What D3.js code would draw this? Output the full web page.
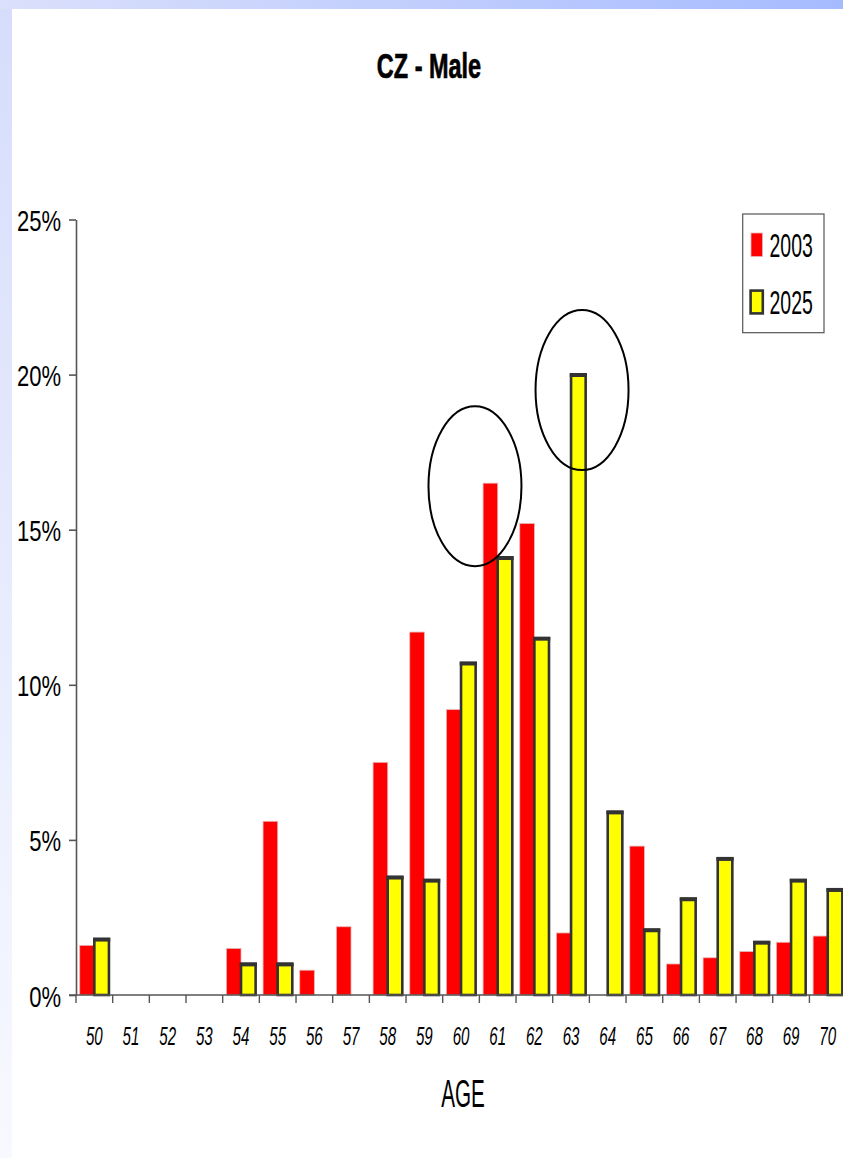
<!DOCTYPE html>
<html>
<head>
<meta charset="utf-8">
<script src="https://cdn.jsdelivr.net/npm/d3@7"></script>
<style>
  html, body { margin: 0; padding: 0; background: #fff; }
  svg { display: block; }
  text { font-family: "Liberation Sans", Arial, sans-serif; fill: #000; }
</style>
</head>
<body>
<svg id="chart" width="843" height="1158"></svg>
<script>
// Share of male retirements by age, Czech Republic
const ages = ["50","51","52","53","54","55","56","57","58","59","60","61","62","63","64","65","66","67","68","69","70"];
const share2003 = [1.6,0,0,0,1.5,5.6,0.8,2.2,7.5,11.7,9.2,16.5,15.2,2.0,0,4.8,1.0,1.2,1.4,1.7,1.9];
const share2025 = [1.8,0,0,0,1.0,1.0,0,0,3.8,3.7,10.7,14.1,11.5,20.0,5.9,2.1,3.1,4.4,1.7,3.7,3.4];
const seriesNames = ["2003","2025"];
const yTicks = [0,5,10,15,20,25];
// highlighted peaks: age band, position within band, value (%)
const highlightAge = ["60","63"];
const highlightFrac = [0.88,0.8];
const highlightValue = [16.4,19.5];

const svg = d3.select("#chart");

// slide frame: gradient strips on top and left
const defs = svg.append("defs");
const gTop = defs.append("linearGradient").attr("id","gTop").attr("x1","0").attr("x2","1").attr("y1","0").attr("y2","0");
gTop.append("stop").attr("offset","0").attr("stop-color","#dbe0fb");
gTop.append("stop").attr("offset","1").attr("stop-color","#a6bbff");
const gLeft = defs.append("linearGradient").attr("id","gLeft").attr("x1","0").attr("x2","0").attr("y1","0").attr("y2","1");
gLeft.append("stop").attr("offset","0").attr("stop-color","#d6ddfb");
gLeft.append("stop").attr("offset","1").attr("stop-color","#f8f9ff");
svg.append("rect").attr("x",0).attr("y",0).attr("width",12).attr("height",1158).attr("fill","url(#gLeft)");
svg.append("rect").attr("x",0).attr("y",0).attr("width",843).attr("height",9).attr("fill","url(#gTop)");

const left = 76, base = 995, top25 = 219.5, step = 36.67;
const x = d3.scaleBand().domain(ages).range([left, left + step * ages.length]).padding(0);
const xs = d3.scaleBand().domain(seriesNames).range([0, x.bandwidth()]).paddingInner(0).paddingOuter(0.255);
const y = d3.scaleLinear().domain([0,25]).range([base, top25]);

// title
svg.append("text").attr("text-anchor","middle").attr("font-weight","bold").attr("font-size",34.5)
  .attr("stroke","#000").attr("stroke-width",0.7)
  .attr("transform","translate(429,77.5) scale(0.68,1)").text("CZ - Male");

// y axis
const yAxis = svg.append("g").attr("transform",`translate(${left},0)`)
  .call(d3.axisLeft(y).tickValues(yTicks).tickFormat(d => d + "%").tickSize(7).tickSizeOuter(0));
yAxis.select(".domain").attr("stroke","#555").attr("stroke-width",1.6);
yAxis.selectAll(".tick line").attr("stroke","#555").attr("stroke-width",1.6);
yAxis.selectAll(".tick text").attr("x",0).attr("dy",null).attr("font-size",29)
  .attr("font-family","'Liberation Sans', Arial, sans-serif").attr("fill","#000")
  .attr("text-anchor","end").attr("transform","translate(-15,11) scale(0.76,1)");

// bars
const groups = svg.append("g").selectAll("g").data(ages).join("g")
  .attr("transform", d => `translate(${x(d)},0)`);
groups.each(function(age, i) {
  const g = d3.select(this);
  const v1 = share2003[i], v2 = share2025[i];
  if (v1 > 0) {
    g.append("rect").attr("x", xs("2003")).attr("width", xs.bandwidth())
      .attr("y", y(v1)).attr("height", base - y(v1))
      .attr("fill","#ff0000").attr("stroke","#e8b4b4").attr("stroke-width",0.8);
  }
  if (v2 > 0) {
    g.append("rect").attr("x", xs("2025")).attr("width", xs.bandwidth())
      .attr("y", y(v2)).attr("height", base - y(v2))
      .attr("fill","#ffff00").attr("stroke","#333").attr("stroke-width",2.6);
    g.append("rect").attr("x", xs("2025") - 1.3).attr("width", xs.bandwidth() + 2.6)
      .attr("y", y(v2) - 1.6).attr("height", 4).attr("fill","#333");
  }
});

// x axis
const xAxis = svg.append("g").attr("transform",`translate(0,${base})`);
xAxis.append("line").attr("x1", left - 7).attr("x2", x.range()[1]).attr("stroke","#555").attr("stroke-width",1.6);
xAxis.selectAll("line.tick").data(ages.concat(["end"])).join("line").attr("class","tick")
  .attr("x1", d => d === "end" ? x.range()[1] : x(d)).attr("x2", d => d === "end" ? x.range()[1] : x(d))
  .attr("y1",0).attr("y2",8).attr("stroke","#555").attr("stroke-width",1.4);
xAxis.selectAll("text").data(ages).join("text")
  .attr("text-anchor","middle").attr("font-style","italic").attr("font-size",26.5)
  .attr("transform", d => `translate(${x(d) + x.bandwidth()/2},50) scale(0.57,1)`).text(d => d);

svg.append("text").attr("text-anchor","middle").attr("font-size",39)
  .attr("transform","translate(463,1106.7) scale(0.53,1)").text("AGE");

// highlight ellipses
highlightAge.forEach((a, i) => {
  svg.append("ellipse").attr("cx", x(a) + highlightFrac[i] * step).attr("cy", y(highlightValue[i]))
    .attr("rx",46.5).attr("ry",80).attr("fill","none").attr("stroke","#000").attr("stroke-width",2);
});

// legend
const lg = svg.append("g");
lg.append("rect").attr("x",742.7).attr("y",214).attr("width",81.3).attr("height",118.7)
  .attr("fill","#fff").attr("stroke","#555").attr("stroke-width",1.2);
lg.append("rect").attr("x",751).attr("y",233).attr("width",11.5).attr("height",23.5)
  .attr("fill","#ff0000").attr("stroke","#e8b4b4").attr("stroke-width",0.8);
lg.append("rect").attr("x",750.6).attr("y",290.6).attr("width",12.2).attr("height",22.8)
  .attr("fill","#ffff00").attr("stroke","#333").attr("stroke-width",2.6);
lg.append("text").attr("font-size",33).attr("transform","translate(769.5,256.7) scale(0.59,1)").text(seriesNames[0]);
lg.append("text").attr("font-size",33).attr("transform","translate(769.5,313.5) scale(0.59,1)").text(seriesNames[1]);
</script>
</body>
</html>
